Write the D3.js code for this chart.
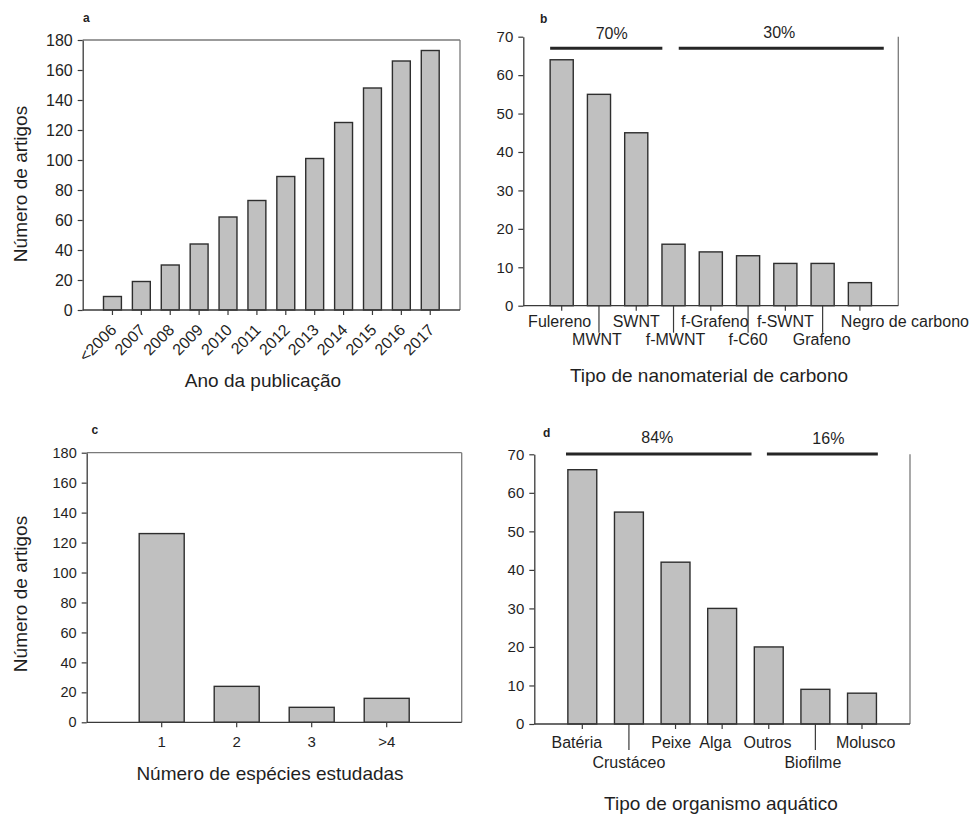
<!DOCTYPE html>
<html>
<head>
<meta charset="utf-8">
<script src="https://cdn.jsdelivr.net/npm/d3@7"></script>
<style>
  html, body { margin: 0; padding: 0; background: #fff; }
  svg { display: block; font-family: "Liberation Sans", Arial, sans-serif; }
</style>
</head>
<body>
<svg id="chart" width="975" height="816"></svg>
<script>
// Panel a: articles per publication year
const yearLabels = ["<2006", "2007", "2008", "2009", "2010", "2011", "2012", "2013", "2014", "2015", "2016", "2017"];
const yearCounts = [9, 19, 30, 44, 62, 73, 89, 101, 125, 148, 166, 173];

// Panel b: carbon nanomaterial types
const carbonTypes = ["Fulereno", "MWNT", "SWNT", "f-MWNT", "f-Grafeno", "f-C60", "f-SWNT", "Grafeno", "Negro de carbono"];
const carbonCounts = [64, 55, 45, 16, 14, 13, 11, 11, 6];
const carbonGroups = [
  { label: "70%", first: "Fulereno", last: "SWNT" },
  { label: "30%", first: "f-MWNT", last: "Negro de carbono" }
];

// Panel c: number of species studied
const speciesLabels = ["1", "2", "3", ">4"];
const speciesCounts = [126, 24, 10, 16];

// Panel d: aquatic organism types
const organismTypes = ["Batéria", "Crustáceo", "Peixe", "Alga", "Outros", "Biofilme", "Molusco"];
const organismCounts = [66, 55, 42, 30, 20, 9, 8];
const organismGroups = [
  { label: "84%", first: "Batéria", last: "Alga" },
  { label: "16%", first: "Outros", last: "Molusco" }
];

// Y axis tick values
const ticks180 = [0, 20, 40, 60, 80, 100, 120, 140, 160, 180];
const ticks70 = [0, 10, 20, 30, 40, 50, 60, 70];

const svg = d3.select("#chart");
const TEXT = "#1f1f1f";
const AXIS = "#3a3a3a";
const FRAME = "#7a7a7a";
const BAR_FILL = "#c0c0c0";
const BAR_STROKE = "#2e2e2e";

function drawPanel(cfg) {
  const g = svg.append("g");
  const x = d3.scaleBand()
    .domain(cfg.labels)
    .range([cfg.left, cfg.right])
    .paddingInner(cfg.pi)
    .paddingOuter(cfg.po);
  const y = d3.scaleLinear()
    .domain([0, d3.max(cfg.yTicks)])
    .range([cfg.bottom, cfg.top]);

  // frame: right edge always, top edge only on boxed panels
  g.append("line")
    .attr("x1", cfg.right).attr("x2", cfg.right)
    .attr("y1", cfg.top).attr("y2", cfg.bottom)
    .attr("stroke", FRAME).attr("stroke-width", 1.3);
  if (cfg.boxed) {
    g.append("line")
      .attr("x1", cfg.left).attr("x2", cfg.right)
      .attr("y1", cfg.top).attr("y2", cfg.top)
      .attr("stroke", FRAME).attr("stroke-width", 1.3);
  }

  // bars
  g.append("g").selectAll("rect")
    .data(cfg.values)
    .join("rect")
    .attr("x", (d, i) => x(cfg.labels[i]))
    .attr("y", d => y(d))
    .attr("width", x.bandwidth())
    .attr("height", d => y(0) - y(d))
    .attr("fill", BAR_FILL)
    .attr("stroke", BAR_STROKE)
    .attr("stroke-width", 1.4);

  // y axis
  const yAxis = g.append("g")
    .attr("transform", `translate(${cfg.left},0)`)
    .call(d3.axisLeft(y).tickValues(cfg.yTicks).tickSize(5).tickPadding(5).tickSizeOuter(0));
  yAxis.select(".domain").attr("stroke", AXIS).attr("stroke-width", 1.3);
  yAxis.selectAll(".tick line").attr("stroke", AXIS).attr("stroke-width", 1.2);
  yAxis.selectAll(".tick text")
    .attr("fill", TEXT)
    .style("font-size", cfg.yFont + "px")
    .style("font-family", "'Liberation Sans', Arial, sans-serif");

  // x axis
  const xAxis = g.append("g")
    .attr("transform", `translate(0,${cfg.bottom})`)
    .call(d3.axisBottom(x).tickSize(5).tickSizeOuter(0).tickFormat(""));
  xAxis.select(".domain").attr("stroke", AXIS).attr("stroke-width", 1.3)
    .attr("d", `M${cfg.left},0H${cfg.right}`);
  xAxis.selectAll(".tick line").attr("stroke", AXIS).attr("stroke-width", 1.2);

  const cx = d => x(d) + x.bandwidth() / 2;

  if (cfg.xMode === "rotated") {
    g.append("g").selectAll("text")
      .data(cfg.labels)
      .join("text")
      .attr("transform", d => `translate(${cx(d) + cfg.rotDx},${cfg.bottom + cfg.rotDy}) rotate(-45)`)
      .attr("text-anchor", "end")
      .attr("fill", TEXT)
      .style("font-size", cfg.xFont + "px")
      .text(d => d);
  } else if (cfg.xMode === "plain") {
    g.append("g").selectAll("text")
      .data(cfg.labels)
      .join("text")
      .attr("x", d => cx(d))
      .attr("y", cfg.bottom + cfg.row1)
      .attr("text-anchor", "middle")
      .attr("fill", TEXT)
      .style("font-size", cfg.xFont + "px")
      .text(d => d);
  } else {
    // two label rows; second-row labels hang from a longer leader tick
    const lower = new Set(cfg.lowerRow);
    xAxis.selectAll(".tick line")
      .attr("y2", d => (lower.has(d) ? cfg.leader : 5));
    g.append("g").selectAll("text")
      .data(cfg.labels)
      .join("text")
      .attr("x", d => cx(d) + (cfg.labelDx[d] || 0))
      .attr("y", d => cfg.bottom + (lower.has(d) ? cfg.row2 : cfg.row1))
      .attr("text-anchor", "middle")
      .attr("fill", TEXT)
      .style("font-size", cfg.xFont + "px")
      .text(d => d);
  }

  // group brackets with share labels
  if (cfg.groups) {
    const step = x.step();
    cfg.groups.forEach((grp, k) => {
      const [s0, s1] = cfg.groupPad[k];
      const x0 = x(grp.first) + s0 * step;
      const x1 = x(grp.last) + x.bandwidth() + s1 * step;
      g.append("line")
        .attr("x1", x0).attr("x2", x1)
        .attr("y1", cfg.groupLineY).attr("y2", cfg.groupLineY)
        .attr("stroke", "#262626").attr("stroke-width", 3);
      g.append("text")
        .attr("x", (x0 + x1) / 2 + (cfg.groupTextDx[k] || 0))
        .attr("y", cfg.groupTextY[k])
        .attr("text-anchor", "middle")
        .attr("fill", TEXT)
        .style("font-size", "16px")
        .text(grp.label);
    });
  }

  // axis titles
  g.append("text")
    .attr("x", cfg.xTitle[0]).attr("y", cfg.xTitle[1])
    .attr("text-anchor", "middle")
    .attr("fill", TEXT)
    .style("font-size", "19px")
    .text(cfg.xTitleText);
  if (cfg.yTitleText) {
    g.append("text")
      .attr("transform", `translate(${cfg.yTitle[0]},${cfg.yTitle[1]}) rotate(-90)`)
      .attr("text-anchor", "middle")
      .attr("fill", TEXT)
      .style("font-size", "19px")
      .text(cfg.yTitleText);
  }

  // panel letter
  g.append("text")
    .attr("x", cfg.letterPos[0]).attr("y", cfg.letterPos[1])
    .attr("fill", TEXT)
    .style("font-size", "12px")
    .style("font-weight", "bold")
    .text(cfg.letter);
}

drawPanel({
  letter: "a", letterPos: [83, 21.5],
  labels: yearLabels, values: yearCounts, yTicks: ticks180,
  left: 82.7, right: 460, top: 40, bottom: 310, pi: 0.38, po: 0.72,
  boxed: true, yFont: 16, xFont: 16,
  xMode: "rotated", rotDx: 5, rotDy: 21,
  xTitleText: "Ano da publicação", xTitle: [263, 387],
  yTitleText: "Número de artigos", yTitle: [27, 184]
});

drawPanel({
  letter: "b", letterPos: [540, 23],
  labels: carbonTypes, values: carbonCounts, yTicks: ticks70,
  left: 523.3, right: 898.3, top: 36.7, bottom: 305.7, pi: 0.38, po: 0.72,
  boxed: false, yFont: 15, xFont: 16,
  xMode: "rows", row1: 21, row2: 39.5, leader: 27,
  lowerRow: ["MWNT", "f-MWNT", "f-C60", "Grafeno"],
  labelDx: { "Fulereno": -2, "MWNT": -2, "f-MWNT": 2, "f-Grafeno": 4, "Grafeno": -1, "Negro de carbono": 45 },
  groups: carbonGroups, groupPad: [[0, 0.39], [0.45, 0.33]],
  groupLineY: 48.3, groupTextY: [39.3, 37.5], groupTextDx: [5.5, -2],
  xTitleText: "Tipo de nanomaterial de carbono", xTitle: [709, 382]
});

drawPanel({
  letter: "c", letterPos: [91.5, 434],
  labels: speciesLabels, values: speciesCounts, yTicks: ticks180,
  left: 86.7, right: 461.7, top: 452.7, bottom: 722.3, pi: 0.4, po: 0.7,
  boxed: true, yFont: 14.5, xFont: 15,
  xMode: "plain", row1: 25,
  xTitleText: "Número de espécies estudadas", xTitle: [270, 780],
  yTitleText: "Número de artigos", yTitle: [27, 594]
});

drawPanel({
  letter: "d", letterPos: [543, 437],
  labels: organismTypes, values: organismCounts, yTicks: ticks70,
  left: 534.3, right: 910, top: 454.3, bottom: 724, pi: 0.38, po: 0.72,
  boxed: false, yFont: 15, xFont: 16,
  xMode: "rows", row1: 24, row2: 44, leader: 26,
  lowerRow: ["Crustáceo", "Biofilme"],
  labelDx: { "Batéria": -5.5, "Peixe": -4.3, "Alga": -6.8, "Outros": -1.3, "Biofilme": -2.5, "Molusco": 3.7 },
  groups: organismGroups, groupPad: [[-0.04, 0.32], [0.27, 0.03]],
  groupLineY: 454, groupTextY: [443, 444], groupTextDx: [-1.5, 6],
  xTitleText: "Tipo de organismo aquático", xTitle: [721, 810]
});
</script>
</body>
</html>
